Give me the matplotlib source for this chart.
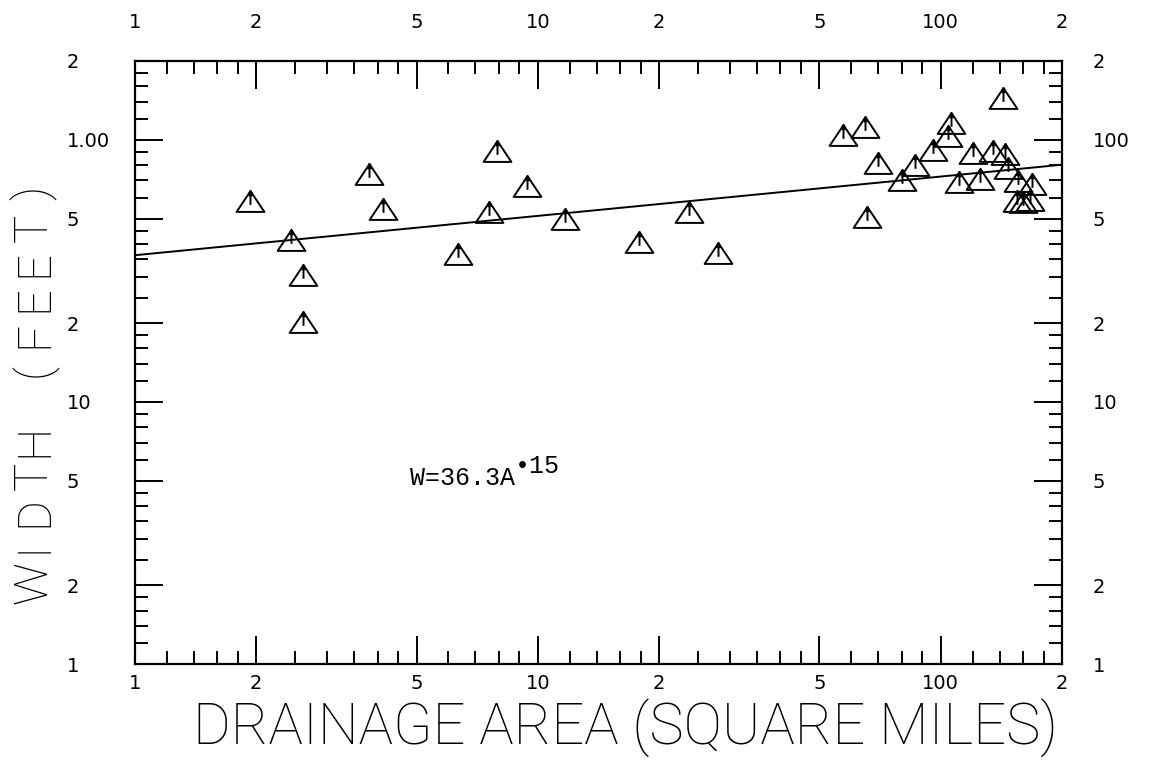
import matplotlib
matplotlib.use('Agg')
import matplotlib.pyplot as plt
from matplotlib.path import Path

# drainage area (sq mi) and channel width (ft)
area = [1.93, 2.44, 2.61, 2.61, 3.81, 4.12, 6.33, 7.91, 7.56, 9.39, 11.7, 17.8, 23.7, 28.0,
        57.1, 64.8, 65.5, 69.8, 80.0, 86.2, 95.5, 105.9, 104.0, 110.8, 120.0, 125.0, 134.6,
        142.6, 144.1, 146.6, 155.3, 168.2, 154.5, 166.3, 160.0]
width = [58.5, 41.5, 30.5, 20.2, 74.1, 54.5, 36.7, 90.8, 53.1, 66.7, 49.9, 40.8, 53.1, 37.0,
         104.5, 112.0, 50.8, 81.7, 70.3, 80.3, 91.6, 116.0, 103.6, 69.2, 89.2, 71.0, 90.8,
         144.6, 88.4, 78.2, 69.8, 67.9, 58.5, 59.0, 58.0]

# regression line W = 36.3 A^.15, end points
fit_area = [1, 200]
fit_width = [36.3, 80.4]

tick_vals = [1, 2, 5, 10, 20, 50, 100, 200]
x_labels = ['1', '2', '5', '10', '2', '5', '100', '2']
y_labels_left = ['1', '2', '5', '10', '2', '5', '1.00', '2']
y_labels_right = ['1', '2', '5', '10', '2', '5', '100', '2']
minor_steps = [1.2, 1.4, 1.6, 1.8, 2.5, 3, 3.5, 4, 4.5, 6, 7, 8, 9]
minor_vals = [m * d for d in (1, 10, 100) for m in minor_steps if m * d < 200]

# triangle with an up arrow inside
verts = [(-0.5, -0.375), (0.5, -0.375), (0, 0.375), (-0.5, -0.375),
         (0, -0.12), (0, 0.375),
         (-0.07, 0.2), (0, 0.375), (0.07, 0.2)]
codes = [Path.MOVETO, Path.LINETO, Path.LINETO, Path.CLOSEPOLY,
         Path.MOVETO, Path.LINETO,
         Path.MOVETO, Path.LINETO, Path.LINETO]
tri_marker = Path(verts, codes)

W, H = 1156, 775
fig = plt.figure(figsize=(W / 100, H / 100), dpi=100)
ax = fig.add_axes([135 / W, 1 - 664 / H, 927 / W, 603 / H])

ax.plot(fit_area, fit_width, color='black', lw=1.4)
ax.plot(area, width, linestyle='none', marker=tri_marker, markersize=20,
        markerfacecolor='none', markeredgecolor='black', markeredgewidth=1.4)

ax.set_xscale('log')
ax.set_yscale('log')
ax.set_xlim(1, 200)
ax.set_ylim(1, 200)

for s in ax.spines.values():
    s.set_linewidth(1.6)

for axis in (ax.xaxis, ax.yaxis):
    axis.set_ticks(tick_vals)
    axis.set_ticks(minor_vals, minor=True)
ax.set_xticklabels(x_labels)
ax.set_yticklabels(y_labels_left)
ax.tick_params(which='both', direction='in', top=True, right=True, width=1.4)
ax.tick_params(which='major', length=20)
ax.tick_params(which='minor', length=9.5, labelbottom=False, labelleft=False)
ax.tick_params(axis='x', labelsize=14, pad=7)
ax.tick_params(axis='y', labelsize=14, pad=49)
for lab in ax.get_yticklabels():
    lab.set_horizontalalignment('left')

# labels on the top and right sides
top = ax.secondary_xaxis('top')
top.set_xticks(tick_vals, labels=x_labels)
top.set_xticks([], minor=True)
top.tick_params(which='both', length=0, labelsize=14, pad=21)
top.spines['top'].set_visible(False)

right = ax.secondary_yaxis('right')
right.set_yticks(tick_vals, labels=y_labels_right)
right.set_yticks([], minor=True)
right.tick_params(which='both', length=0, labelsize=14, pad=22)
right.spines['right'].set_visible(False)

label_font = dict(family=['Roboto', 'DejaVu Sans'], fontweight='light')
fig.text(625 / W, 1 - 728 / H, 'DRAINAGE AREA (SQUARE MILES)',
         ha='center', va='center', fontsize=41.5, **label_font)

# plotter style y label: evenly spaced letters, bottom to top
ylab = 'WIDTH (FEET)'
y_lo, y_hi = 600, 175
step = (y_lo - y_hi) / len(ylab)
for i, ch in enumerate(ylab):
    py = y_lo - (i + 0.5) * step
    fig.text(47 / W, 1 - py / H, ch, rotation=90, rotation_mode='anchor',
             ha='center', va='baseline', fontsize=34, **label_font)

eq_font = dict(family=['Liberation Mono', 'DejaVu Sans Mono'], fontsize=18)
t1 = ax.text(4.81, 4.82, 'W=36.3A', ha='left', va='baseline', **eq_font)
ax.annotate('\u202215', xy=(1, 0), xycoords=t1, xytext=(0, 9),
            textcoords='offset points', ha='left', va='bottom', **eq_font)

fig.savefig('out.png', dpi=100)
